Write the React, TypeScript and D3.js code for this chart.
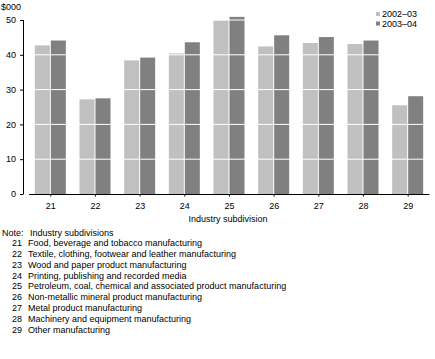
import React from "react";
import * as d3 from "d3";

const categories = ["21", "22", "23", "24", "25", "26", "27", "28", "29"];
const series1Name = "2002–03";
const series2Name = "2003–04";
const series1 = [42.7, 27.2, 38.4, 40.4, 49.9, 42.4, 43.4, 43.1, 25.5];
const series2 = [44.1, 27.5, 39.2, 43.6, 50.9, 45.6, 45.1, 44.1, 28.1];
const yTicks = [0, 10, 20, 30, 40, 50];
const noteLines = [
  ["21", "Food, beverage and tobacco manufacturing"],
  ["22", "Textile, clothing, footwear and leather manufacturing"],
  ["23", "Wood and paper product manufacturing"],
  ["24", "Printing, publishing and recorded media"],
  ["25", "Petroleum, coal, chemical and associated product manufacturing"],
  ["26", "Non-metallic mineral product manufacturing"],
  ["27", "Metal product manufacturing"],
  ["28", "Machinery and equipment manufacturing"],
  ["29", "Other manufacturing"],
];

const FONT = "'Liberation Sans', Arial, sans-serif";
const LIGHT = "#c0c0c0";
const DARK = "#808080";

export default function App() {
  const x = d3.scaleBand<string>().domain(categories).range([28, 430]).padding(0);
  const y = d3.scaleLinear().domain([0, 50]).range([194, 20]);
  const barW = 15;
  const gap = 1;

  return (
    <svg
      width={435}
      height={359}
      style={{ position: "absolute", left: 0, top: 0, background: "#fff" }}
      fontFamily={FONT}
      fontSize={9}
    >
      {/* bars */}
      {categories.map((c, i) => {
        const cx = (x(c) as number) + x.bandwidth() / 2;
        return (
          <g key={c}>
            <rect
              x={cx - gap / 2 - barW}
              y={y(series1[i])}
              width={barW}
              height={y(0) - y(series1[i])}
              fill={LIGHT}
            />
            <rect
              x={cx + gap / 2}
              y={y(series2[i])}
              width={barW}
              height={y(0) - y(series2[i])}
              fill={DARK}
            />
          </g>
        );
      })}
      {/* white gridlines over bars */}
      {yTicks.filter((t) => t > 0).map((t) => (
        <line key={t} x1={29} x2={430} y1={y(t)} y2={y(t)} stroke="#fff" strokeWidth={1} />
      ))}
      {/* y axis */}
      <line x1={23.5} x2={23.5} y1={y(50)} y2={y(0)} stroke="#000" />
      {yTicks.map((t) => (
        <g key={t}>
          <line x1={20} x2={23.5} y1={y(t) + 0.5} y2={y(t) + 0.5} stroke="#000" />
          <text x={16} y={y(t)} dy="0.35em" textAnchor="end">
            {t}
          </text>
        </g>
      ))}
      <text x={1} y={7} dy="0.35em">$000</text>
      {/* x axis */}
      <line x1={29} x2={429.5} y1={194.5} y2={194.5} stroke="#000" />
      {categories.map((c) => {
        const cx = (x(c) as number) + x.bandwidth() / 2 + 0.5;
        return (
          <g key={c}>
            <line x1={cx} x2={cx} y1={194.5} y2={196.5} stroke="#000" />
            <text x={cx} y={206} dy="0.35em" textAnchor="middle">
              {c}
            </text>
          </g>
        );
      })}
      <text x={228} y={219} dy="0.35em" textAnchor="middle">
        Industry subdivision
      </text>
      {/* legend */}
      <rect x={376} y={12} width={4} height={4} fill={LIGHT} />
      <text x={382} y={14} dy="0.35em">{series1Name}</text>
      <rect x={376} y={21.5} width={4} height={4} fill={DARK} />
      <text x={382} y={23.5} dy="0.35em">{series2Name}</text>
      {/* notes */}
      <text x={2} y={232.5} dy="0.35em">
        Note:
      </text>
      <text x={30} y={232.5} dy="0.35em">
        Industry subdivisions
      </text>
      {noteLines.map((l, i) => (
        <g key={l[0]}>
          <text x={12} y={243 + i * 10.8} dy="0.35em">
            {l[0]}
          </text>
          <text x={28} y={243 + i * 10.8} dy="0.35em">
            {l[1]}
          </text>
        </g>
      ))}
    </svg>
  );
}
